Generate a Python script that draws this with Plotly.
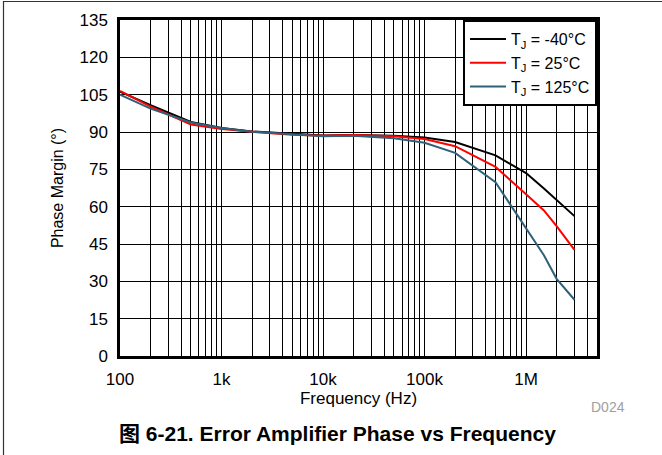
import plotly.graph_objects as go

freq_hz = [100, 200, 500, 1e3, 2e3, 5e3, 1e4, 2e4, 5e4, 1e5, 2e5, 5e5, 1e6, 1.5e6, 2e6, 3e6]
pm_m40 = [106.2, 100.8, 94.0, 91.6, 90.2, 89.2, 88.6, 88.8, 88.5, 87.8, 86.0, 80.6, 73.5, 67.3, 62.8, 56.2]
pm_25 = [106.5, 100.2, 93.0, 91.2, 90.1, 88.9, 88.5, 88.8, 88.3, 87.2, 84.3, 76.0, 65.0, 58.5, 52.2, 42.6]
pm_125 = [105.0, 99.4, 93.8, 91.6, 90.1, 89.0, 88.3, 88.5, 87.5, 85.7, 81.6, 69.8, 51.5, 40.5, 31.0, 22.6]

series_names = ["T<sub>J</sub> = -40°C", "T<sub>J</sub> = 25°C", "T<sub>J</sub> = 125°C"]
series_colors = ["#000000", "#ff0000", "#2f6178"]

x_tick_vals = [100, 1e3, 1e4, 1e5, 1e6]
x_tick_text = ["100", "1k", "10k", "100k", "1M"]
y_tick_vals = [0, 15, 30, 45, 60, 75, 90, 105, 120, 135]

minor_vals = [m * 10 ** d for d in range(2, 7) for m in range(2, 10) if m * 10 ** d <= 5e6]

W, H = 662, 455
L, R, T, B = 120, 65, 20, 99

fig = go.Figure()
for name, col, ys in zip(series_names, series_colors, [pm_m40, pm_25, pm_125]):
    fig.add_trace(go.Scatter(x=freq_hz, y=ys, mode="lines", name=name,
                             line=dict(color=col, width=2)))

font_main = "Liberation Sans, Arial, Noto Sans CJK SC, sans-serif"

fig.update_layout(
    width=W, height=H,
    margin=dict(l=L, r=R, t=T, b=B),
    paper_bgcolor="white", plot_bgcolor="white",
    font=dict(family=font_main, color="#000000", size=17),
    showlegend=True,
    legend=dict(x=1, y=1, xanchor="right", yanchor="top",
                bgcolor="white", bordercolor="#000000", borderwidth=2,
                font=dict(size=16), tracegroupgap=0, itemwidth=36),
    xaxis=dict(type="log", range=[2, 6.69897],
               tickvals=x_tick_vals, ticktext=x_tick_text,
               showgrid=True, gridcolor="#000000", gridwidth=1,
               minor=dict(tickvals=minor_vals, showgrid=True, gridcolor="#000000", gridwidth=1, ticks=""),
               showline=True, linecolor="#000000", linewidth=2.5, mirror=True,
               ticks="", ticklabelstandoff=6,
               title=dict(text="Frequency (Hz)", font=dict(size=17), standoff=0),
               tickfont=dict(size=17), zeroline=False),
    yaxis=dict(range=[0, 135], tickvals=y_tick_vals,
               showgrid=True, gridcolor="#000000", gridwidth=1,
               showline=True, linecolor="#000000", linewidth=2.5, mirror=True,
               ticks="", ticklabelstandoff=6,
               title=dict(text="Phase Margin (°)", font=dict(size=16), standoff=12),
               tickfont=dict(size=17), zeroline=False),
)

pw = W - L - R
ph = H - T - B

def px_x(p):
    return (p - L) / pw

def px_y(p):
    return (H - B - p) / ph

# outer frame (left and top edges visible)
fig.add_shape(type="rect", xref="paper", yref="paper",
              x0=px_x(3.5), x1=px_x(W + 20), y0=px_y(H + 20), y1=px_y(1.5),
              line=dict(color="#333333", width=1.2), fillcolor="rgba(0,0,0,0)", layer="below")

fig.add_annotation(text="D024", xref="paper", yref="paper",
                   x=px_x(608), y=px_y(407), xanchor="center", yanchor="middle",
                   showarrow=False, font=dict(size=14, color="#a0a0a0"))
fig.add_annotation(text="<b>图 6-21. Error Amplifier Phase vs Frequency</b>",
                   xref="paper", yref="paper", x=px_x(337), y=px_y(433),
                   xanchor="center", yanchor="middle",
                   showarrow=False, font=dict(size=21, color="#000000"))

fig.write_html("out.html", post_script="document.body.style.margin='0';",
               config={"displayModeBar": False})
